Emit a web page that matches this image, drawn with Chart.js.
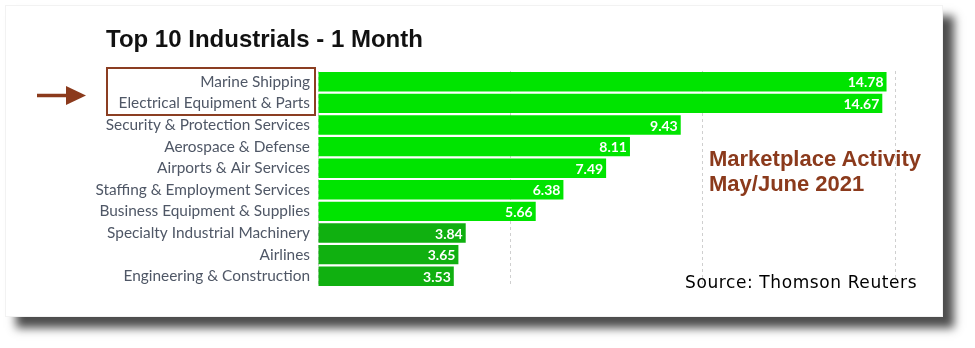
<!DOCTYPE html>
<html>
<head>
<meta charset="utf-8">
<script src="https://cdn.jsdelivr.net/npm/chart.js@4"></script>
<style>
  html, body { margin: 0; padding: 0; background: #ffffff; width: 975px; height: 348px; overflow: hidden; }
  #wrap { position: relative; width: 975px; height: 348px; }
  #panel { position: absolute; left: 5px; top: 5px; width: 938px; height: 312px; background: #fff;
           box-shadow: 11px 11px 9px rgba(0,0,0,0.7); border: 1px solid #f2f2f2; box-sizing: border-box; }
  canvas { position: absolute; left: 0; top: 0; }
  .txt { position: absolute; white-space: nowrap; line-height: 1; }
  #title { left: 106px; top: 25px; font: bold 24px "Liberation Sans", Arial, sans-serif; color: #111; }
  #note { left: 709px; top: 146px; font: bold 22px "Liberation Sans", Arial, sans-serif; color: #8b3a1c; line-height: 25px; }
  #src { left: 685px; top: 272px; font: 17px "DejaVu Sans", Verdana, sans-serif; color: #000; letter-spacing: 0.6px; }
  #box { position: absolute; left: 106px; top: 67px; width: 210px; height: 49px; border: 2px solid #8b3e22; box-sizing: border-box; }
  svg { position: absolute; left: 0; top: 0; }
</style>
</head>
<body>
<div id="wrap">
  <div id="panel"></div>
  <canvas id="c" width="975" height="348"></canvas>
  <div id="box"></div>
  <svg width="120" height="120">
    <line x1="37" y1="95.5" x2="68" y2="95.5" stroke="#8b3a1c" stroke-width="3.5"/>
    <polygon points="66,86 86,95.5 66,105" fill="#8b3a1c"/>
  </svg>
  <div class="txt" id="title">Top 10 Industrials - 1 Month</div>
  <div class="txt" id="note">Marketplace Activity<br>May/June 2021</div>
  <div class="txt" id="src">Source: Thomson Reuters</div>
</div>
<script>
const categories = [
  "Marine Shipping",
  "Electrical Equipment & Parts",
  "Security & Protection Services",
  "Aerospace & Defense",
  "Airports & Air Services",
  "Staffing & Employment Services",
  "Business Equipment & Supplies",
  "Specialty Industrial Machinery",
  "Airlines",
  "Engineering & Construction"
];
const values = [14.78, 14.67, 9.43, 8.11, 7.49, 6.38, 5.66, 3.84, 3.65, 3.53];
const barColors = ["#00e400", "#00e400", "#00e400", "#00e400", "#00e400", "#00e400", "#00e400", "#10b010", "#10b010", "#10b010"];
const xTicks = [0, 5, 10, 15];

const valueLabels = {
  id: 'valueLabels',
  afterDatasetsDraw(chart) {
    const ctx = chart.ctx;
    const meta = chart.getDatasetMeta(0);
    ctx.save();
    ctx.font = 'bold 14px Lato, sans-serif';
    ctx.fillStyle = '#ffffff';
    ctx.textAlign = 'right';
    ctx.textBaseline = 'middle';
    meta.data.forEach((el, i) => {
      ctx.fillText(values[i].toFixed(2), el.x - 3, el.y + 1);
    });
    ctx.restore();
  }
};

new Chart(document.getElementById('c'), {
  type: 'bar',
  data: {
    labels: categories,
    datasets: [{
      data: values,
      backgroundColor: barColors,
      borderWidth: 0,
      barPercentage: 0.9,
      categoryPercentage: 1.0
    }]
  },
  options: {
    indexAxis: 'y',
    responsive: false,
    animation: false,
    events: [],
    layout: { padding: { left: 0, top: 71, right: 80, bottom: 61 } },
    plugins: { legend: { display: false }, tooltip: { enabled: false }, title: { display: false } },
    scales: {
      x: {
        min: 0, max: 15,
        afterBuildTicks: s => { s.ticks = xTicks.map(v => ({ value: v })); },
        afterFit: s => { s.height = 0; },
        ticks: { display: false },
        grid: { color: '#cfcfcf', lineWidth: 1, drawTicks: false },
        border: { display: false, dash: [3, 3] }
      },
      y: {
        afterFit: s => { s.width = 318; },
        grid: { display: false, drawTicks: false },
        border: { display: false },
        ticks: { font: { family: 'Lato', size: 15.4 }, color: '#4f5766', padding: 8 }
      }
    }
  },
  plugins: [valueLabels]
});
</script>
</body>
</html>
